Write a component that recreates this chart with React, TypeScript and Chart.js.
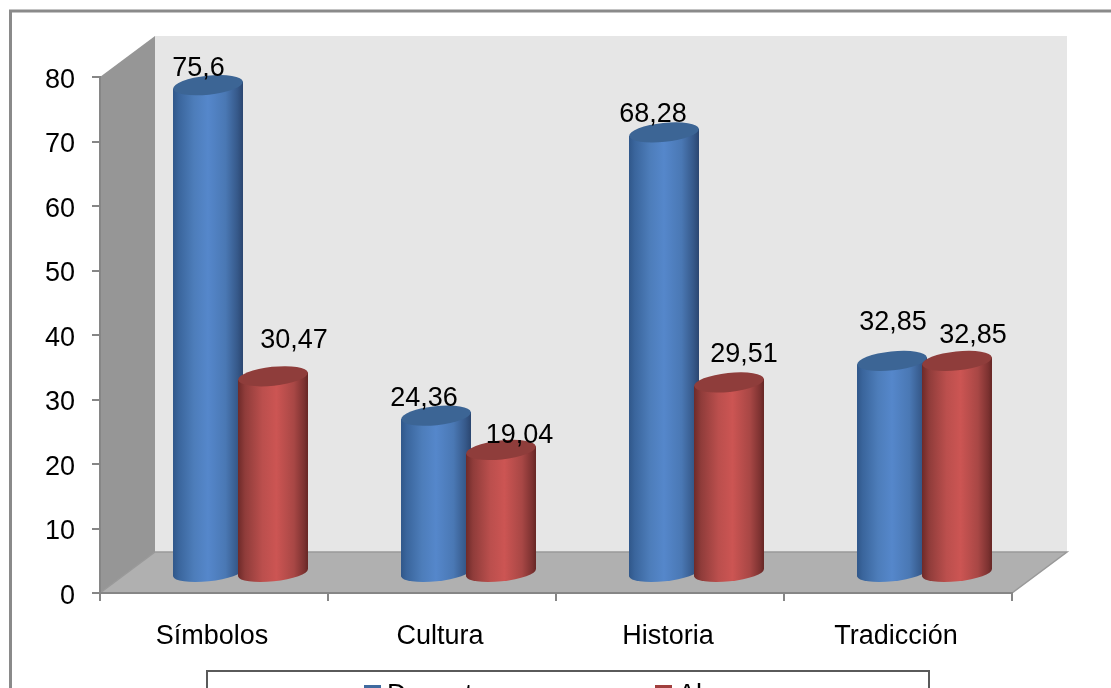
import React, { useEffect, useRef } from "react";
import { Chart, registerables } from "chart.js";

Chart.register(...registerables);

const categories = ["Símbolos", "Cultura", "Historia", "Tradicción"];
const docentes = [75.6, 24.36, 68.28, 32.85];
const alumnos = [30.47, 19.04, 29.51, 32.85];
const seriesNames = ["Docentes", "Alumnos"];
const valueTicks = [0, 10, 20, 30, 40, 50, 60, 70, 80];

// Hand-placed data label nudges (px from each cylinder's top centre).
const labelNudges = [
  [[-9.5, -16.5], [-12, -17.5], [-11, -17.5], [1, -38.5]],
  [[21, -35.5], [18.5, -14.5], [15, -28], [16, -25.5]],
];

const FONT_FAMILY = "'Liberation Sans', Arial, sans-serif";
const FONT_SIZE = 27;
const FONT = `${FONT_SIZE}px ${FONT_FAMILY}`;
const AXIS_GRAY = "#868686";
const DEPTH_X = 55;
const DEPTH_Y = 41;
const UNITS_PER_GROUP_SHIFT = (DEPTH_X / 2 - 1) / 228;
const UNITS_Y_SHIFT = 20.2 / 6.45;
const CAP_RY = 9.5;
const BASE_RY = 8.5;
const TILT = (-6 * Math.PI) / 180;

const shaftStops: [number, string][][] = [
  [[0, "#30578a"], [0.08, "#3a659c"], [0.3, "#4d7dba"], [0.5, "#5587cb"], [0.75, "#4a78b4"], [0.92, "#36598a"], [1, "#2b4670"]],
  [[0, "#6e2a29"], [0.1, "#8f3c3a"], [0.35, "#bb4f4d"], [0.55, "#cc5553"], [0.8, "#a84745"], [0.95, "#7b3130"], [1, "#652624"]],
];
const capColors = ["#3c6595", "#8f3d3b"];
const baseColors = ["#4d7dba", "#bb4f4d"];
const swatchColors = ["#3f6a9f", "#a03f3d"];

const fmt = (v: number) => String(v).replace(".", ",");

function shaftOutline(ctx: CanvasRenderingContext2D, bar: any) {
  const rx = bar.width / 2;
  const lift = rx * Math.sin(-TILT);
  ctx.moveTo(bar.x - rx, bar.y + lift);
  ctx.lineTo(bar.x + rx, bar.y - lift);
  ctx.lineTo(bar.x + rx, bar.base - lift);
  ctx.lineTo(bar.x - rx, bar.base + lift);
  ctx.closePath();
}

const scenery = {
  id: "scenery",
  beforeDraw(chart: any) {
    const { ctx, chartArea: a, width, height } = chart;
    ctx.save();
    ctx.fillStyle = "#ffffff";
    ctx.fillRect(0, 0, width, height);

    // Outer frame, running past the right and bottom edges
    ctx.strokeStyle = "#8a8a8a";
    ctx.lineWidth = 3;
    ctx.strokeRect(10.5, 11, width + 20, height + 20);

    // Back wall
    ctx.fillStyle = "#e6e6e6";
    ctx.fillRect(a.left + DEPTH_X, a.top - DEPTH_Y, a.width, a.height);

    // Side wall
    ctx.fillStyle = "#969696";
    ctx.beginPath();
    ctx.moveTo(a.left, a.bottom);
    ctx.lineTo(a.left, a.top);
    ctx.lineTo(a.left + DEPTH_X, a.top - DEPTH_Y);
    ctx.lineTo(a.left + DEPTH_X, a.bottom - DEPTH_Y);
    ctx.closePath();
    ctx.fill();

    // Floor
    ctx.fillStyle = "#b0b0b0";
    ctx.strokeStyle = "#999999";
    ctx.lineWidth = 1.5;
    ctx.beginPath();
    ctx.moveTo(a.left, a.bottom);
    ctx.lineTo(a.left + DEPTH_X, a.bottom - DEPTH_Y);
    ctx.lineTo(a.right + DEPTH_X, a.bottom - DEPTH_Y);
    ctx.lineTo(a.right, a.bottom);
    ctx.closePath();
    ctx.fill();
    ctx.stroke();
    ctx.restore();
  },
};

const cylinders = {
  id: "cylinders",
  beforeDatasetDraw(chart: any, args: any) {
    const { ctx } = chart;
    ctx.save();
    ctx.beginPath();
    chart.getDatasetMeta(args.index).data.forEach((bar: any) => shaftOutline(ctx, bar));
    ctx.clip();
  },
  afterDatasetDraw(chart: any) {
    chart.ctx.restore();
  },
  // Shading goes on once every bar is down, so each series overlaps the one before it
  afterDatasetsDraw(chart: any) {
    const { ctx } = chart;
    chart.data.datasets.forEach((_: any, i: number) => {
      chart.getDatasetMeta(i).data.forEach((bar: any) => {
        const rx = bar.width / 2;
        const fill = ctx.createLinearGradient(bar.x - rx, 0, bar.x + rx, 0);
        shaftStops[i].forEach(([at, color]) => fill.addColorStop(at, color));
        ctx.save();
        ctx.fillStyle = fill;
        ctx.beginPath();
        shaftOutline(ctx, bar);
        ctx.fill();
        ctx.beginPath();
        ctx.ellipse(bar.x, bar.base, rx, BASE_RY, TILT, 0, Math.PI * 2);
        ctx.fill();
        ctx.fillStyle = capColors[i];
        ctx.beginPath();
        ctx.ellipse(bar.x, bar.y, rx, CAP_RY, TILT, 0, Math.PI * 2);
        ctx.fill();
        ctx.restore();
      });
    });
  },
};

const annotations = {
  id: "annotations",
  afterDraw(chart: any) {
    const { ctx } = chart;
    ctx.save();
    ctx.font = FONT;
    ctx.fillStyle = "#000000";
    ctx.textAlign = "center";
    ctx.textBaseline = "middle";
    chart.data.datasets.forEach((ds: any, i: number) => {
      chart.getDatasetMeta(i).data.forEach((bar: any, j: number) => {
        const [dx, dy] = labelNudges[i][j];
        ctx.fillText(fmt(ds.data[j].y), bar.x + dx, bar.y + dy);
      });
    });

    // Legend box, cut off by the bottom edge of the page
    ctx.strokeStyle = "#5a5a5a";
    ctx.lineWidth = 2;
    ctx.strokeRect(207, 671, 722, 60);
    const slots = [[364, 387], [655, 678]];
    ctx.textAlign = "left";
    ctx.textBaseline = "alphabetic";
    chart.data.datasets.forEach((ds: any, i: number) => {
      const [swatchX, textX] = slots[i];
      ctx.fillStyle = swatchColors[i];
      ctx.fillRect(swatchX, 685, 17, 17);
      ctx.fillStyle = "#000000";
      ctx.fillText(ds.label, textX, 703);
    });
    ctx.restore();
  },
};

export default function App() {
  const ref = useRef<HTMLCanvasElement | null>(null);

  useEffect(() => {
    const seriesValues = [docentes, alumnos];
    const chart = new Chart(ref.current as HTMLCanvasElement, {
      type: "bar",
      data: {
        labels: categories,
        datasets: seriesValues.map((values, i) => ({
          label: seriesNames[i],
          data: values.map((v, j) => ({ x: j, y: v })),
          xAxisID: "xBars",
          yAxisID: "yBars",
          backgroundColor: baseColors[i],
          borderWidth: 0,
          categoryPercentage: 1.14,
          barPercentage: 1.077,
        })),
      } as any,
      options: {
        responsive: false,
        animation: false,
        layout: { padding: { left: 0, top: 77, right: 99, bottom: 0 } },
        plugins: { legend: { display: false }, tooltip: { enabled: false } },
        scales: {
          x: {
            type: "category",
            offset: true,
            afterFit: (s: any) => { s.height = 95; },
            border: { color: AXIS_GRAY, width: 2 },
            grid: { offset: true, drawOnChartArea: false, color: AXIS_GRAY, lineWidth: 2, tickLength: 8 },
            ticks: { color: "#000000", font: { family: FONT_FAMILY, size: FONT_SIZE }, padding: 19, maxRotation: 0, labelOffset: -2 },
          },
          y: {
            type: "linear",
            min: valueTicks[0],
            max: valueTicks[valueTicks.length - 1],
            afterFit: (s: any) => { s.width = 100; },
            afterBuildTicks: (s: any) => { s.ticks = valueTicks.map((value) => ({ value })); },
            border: { color: AXIS_GRAY, width: 2 },
            grid: { drawOnChartArea: false, color: AXIS_GRAY, lineWidth: 2, tickLength: 8 },
            ticks: { color: "#000000", font: { family: FONT_FAMILY, size: FONT_SIZE }, padding: 17, labelOffset: 3.5 },
          },
          // The cylinders stand halfway into the floor's depth
          xBars: {
            type: "linear",
            axis: "x",
            display: false,
            offset: false,
            min: -0.5 - UNITS_PER_GROUP_SHIFT,
            max: categories.length - 0.5 - UNITS_PER_GROUP_SHIFT,
          },
          yBars: {
            type: "linear",
            axis: "y",
            display: false,
            min: valueTicks[0] - UNITS_Y_SHIFT,
            max: valueTicks[valueTicks.length - 1] - UNITS_Y_SHIFT,
          },
        },
      } as any,
      plugins: [scenery, cylinders, annotations],
    });
    return () => chart.destroy();
  }, []);

  return (
    <div style={{ position: "fixed", left: 0, top: 0, width: 1111, height: 688, overflow: "hidden" }}>
      <canvas ref={ref} width={1111} height={688} style={{ display: "block" }} />
    </div>
  );
}
